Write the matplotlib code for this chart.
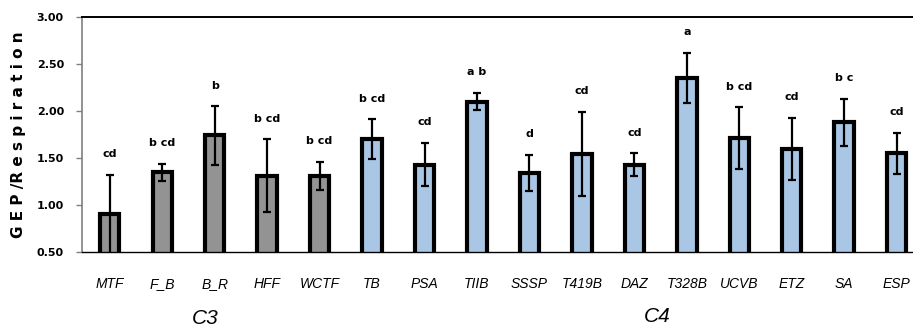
import matplotlib
matplotlib.use("Agg")
from matplotlib import pyplot as plt

# data
sites = ["MTF", "F_B", "B_R", "HFF", "WCTF", "TB", "PSA", "TIIB",
         "SSSP", "T419B", "DAZ", "T328B", "UCVB", "ETZ", "SA", "ESP"]
ratio = [0.90, 1.35, 1.74, 1.31, 1.31, 1.70, 1.43, 2.10,
         1.34, 1.54, 1.43, 2.35, 1.71, 1.60, 1.88, 1.55]
err = [0.42, 0.09, 0.31, 0.39, 0.15, 0.21, 0.23, 0.09,
       0.19, 0.45, 0.12, 0.27, 0.33, 0.33, 0.25, 0.22]
letters = ["cd", "b cd", "b", "b cd", "b cd", "b cd", "cd", "a b",
           "d", "cd", "cd", "a", "b cd", "cd", "b c", "cd"]
group = ["C3"] * 5 + ["C4"] * 11
yticks = [0.5, 1.0, 1.5, 2.0, 2.5, 3.0]

GROUP_COLORS = {"C3": "#939393", "C4": "#a9c7e4"}
NARROW = ["Liberation Sans Narrow", "DejaVu Sans"]


def main():
    fig = plt.figure(figsize=(9.13, 3.28), dpi=100)
    ax = fig.add_axes([0.0898, 0.232, 0.921, 0.716])

    x = list(range(len(sites)))
    colors = [GROUP_COLORS[g] for g in group]
    ax.bar(x, ratio, width=0.37, bottom=0, color=colors,
           edgecolor="black", linewidth=3, zorder=2)
    ax.errorbar(x, ratio, yerr=err, fmt="none", ecolor="black",
                elinewidth=1.6, capsize=3, capthick=1.6, zorder=3)

    for xi, r, e, lab in zip(x, ratio, err, letters):
        ax.text(xi, r + e + 0.22, lab, ha="center", va="center",
                fontsize=8, fontweight="bold", family=NARROW)

    ax.set_xlim(-0.53, 15.5)
    ax.set_ylim(0.5, 3.0)
    ax.set_yticks(yticks)
    ax.set_yticklabels([f"{t:.2f}" for t in yticks], fontsize=8,
                       fontweight="bold", family=NARROW)
    ax.tick_params(axis="y", length=4, color="#808080", width=1, pad=9)
    ax.set_xticks(x)
    ax.set_xticklabels(sites, fontsize=10, style="italic",
                       family="Liberation Sans")
    ax.tick_params(axis="x", length=0, pad=18)

    ax.spines["left"].set_color("#808080")
    ax.spines["left"].set_linewidth(1.2)
    ax.spines["top"].set_color("black")
    ax.spines["top"].set_linewidth(1.4)
    ax.spines["bottom"].set_color("black")
    ax.spines["bottom"].set_linewidth(1.0)
    ax.spines["right"].set_visible(False)

    ax.set_ylabel("G E P /R e s p i r a t i o n", fontsize=11,
                  fontweight="bold", family=NARROW, labelpad=8)

    fig.text(205 / 913, 1 - 318 / 328, "C3", fontsize=15, style="italic",
             family="Liberation Sans", ha="center", va="center")
    fig.text(657 / 913, 1 - 316 / 328, "C4", fontsize=15, style="italic",
             family="Liberation Sans", ha="center", va="center")

    fig.savefig("out.png", dpi=100)
    plt.close(fig)


if __name__ == "__main__":
    main()
